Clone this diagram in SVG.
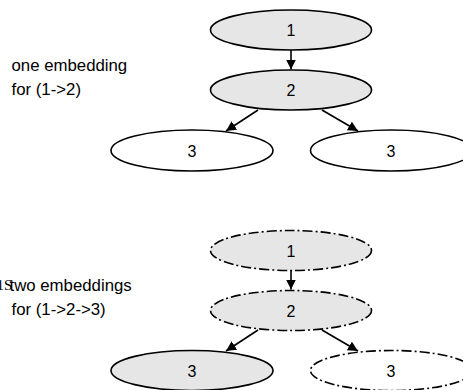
<svg xmlns="http://www.w3.org/2000/svg" width="463" height="390" viewBox="0 0 463 390">
<style>
.n{stroke:#000;stroke-width:1.6}
.g{fill:#e6e6e6}
.w{fill:#fff}
.d{stroke-dasharray:10 3 2 3}
.t{font-family:"Liberation Sans",Arial,sans-serif;font-size:16px;fill:#000}
.l{font-size:16.8px}
.c{text-anchor:middle}
.e{stroke:#000;stroke-width:1.6;fill:none}
</style>
<defs>
<marker id="ah" viewBox="0 0 10 10" refX="10" refY="5" markerWidth="10" markerHeight="10" markerUnits="userSpaceOnUse" orient="auto">
<path d="M0,0 L10,5 L0,10 Z" fill="#000"/>
</marker>
</defs>
<rect width="463" height="390" fill="#fff"/>
<g id="label-top">
<text class="t l" x="11.5" y="71">one embedding</text>
<text class="t l" x="11.5" y="95">for (1-&gt;2)</text>
</g>
<g id="label-bottom">
<text x="-3.5" y="290" font-family="Liberation Serif,serif" font-size="15">1S</text>
<text class="t l" x="9.5" y="291">two embeddings</text>
<text class="t l" x="11.5" y="315">for (1-&gt;2-&gt;3)</text>
</g>
<g id="connectors">
<line class="e" x1="291" y1="50" x2="291" y2="69.5" marker-end="url(#ah)"/>
<line class="e" x1="258" y1="110" x2="226" y2="131" marker-end="url(#ah)"/>
<line class="e" x1="322" y1="110" x2="358" y2="131" marker-end="url(#ah)"/>
<line class="e" x1="291" y1="270" x2="291" y2="289.5" marker-end="url(#ah)"/>
<line class="e" x1="258" y1="330" x2="226" y2="351" marker-end="url(#ah)"/>
<line class="e" x1="322" y1="330" x2="358" y2="351" marker-end="url(#ah)"/>
</g>
<g id="t1"><ellipse class="n g" cx="291" cy="30" rx="80.5" ry="20"/><text class="t c" x="291" y="36">1</text></g>
<g id="t2"><ellipse class="n g" cx="291" cy="90" rx="80.5" ry="20"/><text class="t c" x="291" y="96">2</text></g>
<g id="t3a"><ellipse class="n w" cx="192" cy="150.5" rx="81" ry="20.5"/><text class="t c" x="192" y="156.5">3</text></g>
<g id="t3b"><ellipse class="n w" cx="391.5" cy="150.5" rx="81" ry="20.5"/><text class="t c" x="391" y="156.5">3</text></g>
<g id="b1"><ellipse class="n g d" cx="291" cy="250.5" rx="80.5" ry="20"/><text class="t c" x="291" y="256.5">1</text></g>
<g id="b2"><ellipse class="n g d" cx="291" cy="310.5" rx="80.5" ry="20"/><text class="t c" x="291" y="316.5">2</text></g>
<g id="b3a"><ellipse class="n g" cx="192" cy="370.5" rx="81" ry="20"/><text class="t c" x="192" y="376.5">3</text></g>
<g id="b3b"><ellipse class="n w d" cx="391.5" cy="370.5" rx="81" ry="20"/><text class="t c" x="391" y="376.5">3</text></g>
</svg>
